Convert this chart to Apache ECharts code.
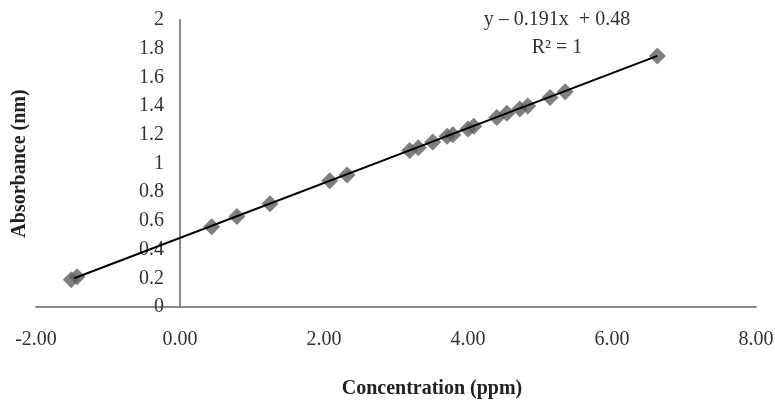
<!DOCTYPE html>
<html><head><meta charset="utf-8">
<script src="https://cdn.jsdelivr.net/npm/echarts@6/dist/echarts.min.js"></script>
<style>html,body{margin:0;padding:0;background:#fff}#c{width:775px;height:412px}</style>
</head><body><div id="c"></div>
<script>
var concentration = [-1.51, -1.43, 0.44, 0.79, 1.25, 2.08, 2.32, 3.19, 3.31, 3.51, 3.71, 3.79, 4.00, 4.08, 4.40, 4.54, 4.72, 4.83, 5.14, 5.35, 6.63];
var absorbance    = [0.19, 0.21, 0.56, 0.63, 0.72, 0.88, 0.92, 1.09, 1.11, 1.15, 1.19, 1.20, 1.24, 1.26, 1.32, 1.35, 1.38, 1.40, 1.46, 1.50, 1.75];
var trendX = [-1.47, 6.63];
var trendY = [0.20, 1.75];
var equationText = 'y – 0.191x  + 0.48';
var r2Text = 'R² = 1';
var xName = 'Concentration (ppm)';
var yName = 'Absorbance (nm)';

var pts = concentration.map(function(x, i){ return [x, absorbance[i]]; });
var trend = trendX.map(function(x, i){ return [x, trendY[i]]; });
var serif = '"Liberation Serif", "DejaVu Serif", serif';

var chart = echarts.init(document.getElementById('c'));
chart.setOption({
  animation: false,
  grid: {left: 36, right: 19, top: 20, bottom: 105, containLabel: false, outerBoundsMode: 'none'},
  xAxis: {
    type: 'value', min: -2, max: 8, interval: 2,
    axisLine: {onZero: true, lineStyle: {color: '#8a8a8a', width: 2}},
    axisTick: {show: false},
    splitLine: {show: false},
    axisLabel: {margin: 23, color: '#333', fontFamily: serif, fontSize: 20,
      formatter: function(v){ return v.toFixed(2); }},
    name: xName, nameLocation: 'middle', nameGap: 72,
    nameTextStyle: {fontFamily: serif, fontWeight: 'bold', fontSize: 20, color: '#222', padding: [0, 0, 0, 72]}
  },
  yAxis: {
    type: 'value', min: 0, max: 2, interval: 0.2,
    position: 'left', offset: -144,
    axisLine: {onZero: false, lineStyle: {color: '#8a8a8a', width: 2}},
    axisTick: {show: false},
    splitLine: {show: false},
    axisLabel: {margin: 16, color: '#333', fontFamily: serif, fontSize: 20,
      formatter: function(v){ return String(Math.round(v * 10) / 10); }},
    name: yName, nameLocation: 'middle', nameGap: 150,
    nameTextStyle: {fontFamily: serif, fontWeight: 'bold', fontSize: 20, color: '#222'}
  },
  series: [
    {type: 'scatter', data: pts, symbol: 'diamond', symbolSize: 17,
      itemStyle: {color: '#5f5f5f'}, z: 2},
    {type: 'line', data: trend, symbol: 'none', lineStyle: {color: '#000', width: 2}, z: 3}
  ],
  graphic: [
    {type: 'text', x: 557, y: 20, style: {text: equationText, font: '20px ' + serif, fill: '#333', align: 'center', verticalAlign: 'middle'}},
    {type: 'text', x: 557, y: 48, style: {text: r2Text, font: '20px ' + serif, fill: '#333', align: 'center', verticalAlign: 'middle'}}
  ]
});
</script></body></html>
